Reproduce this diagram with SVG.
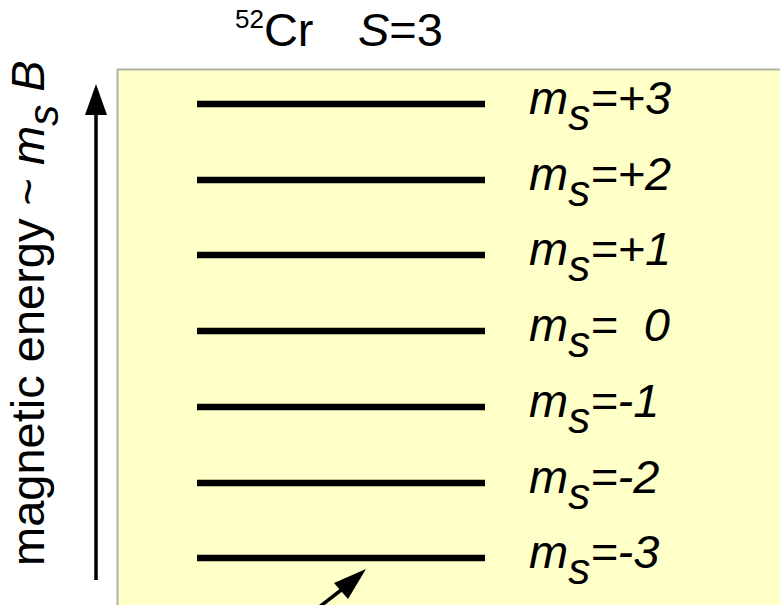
<svg xmlns="http://www.w3.org/2000/svg" width="780" height="605" viewBox="0 0 780 605">
<style>
text{font-family:"Liberation Sans",Arial,sans-serif;fill:#000}
.lvl{stroke:#000;stroke-width:6.5}
.lab{font-size:47px;font-style:italic}
.sub{font-size:44px}
</style>
<rect width="780" height="605" fill="#fff"/>
<g id="box"><rect x="117.5" y="69.5" width="670" height="545" fill="#ffffc8" stroke="#b4b4a4" stroke-width="2"/></g>
<g id="title"><text x="235" y="46" font-size="47"><tspan font-size="26" dy="-18">52</tspan><tspan dy="18">Cr</tspan><tspan x="358" font-style="italic">S</tspan>=3</text></g>
<g id="axis">
<line x1="96" y1="580" x2="96" y2="112" stroke="#000" stroke-width="3.5"/>
<path d="M85,115 L96,84 L107,115 z" fill="#000"/>
<text transform="translate(44,566) rotate(-90)" font-size="47">magnetic energy ~ <tspan font-style="italic">m</tspan><tspan font-style="italic" font-size="42" dy="14">s</tspan><tspan font-style="italic" dy="-14"> B</tspan></text>
</g>
<g id="levels">
<g id="l3"><line class="lvl" x1="197" y1="104" x2="485" y2="104"/><text class="lab" x="529" y="114">m<tspan class="sub" dy="16">s</tspan><tspan dy="-16">=+3</tspan></text></g>
<g id="l2"><line class="lvl" x1="197" y1="180" x2="485" y2="180"/><text class="lab" x="529" y="190">m<tspan class="sub" dy="16">s</tspan><tspan dy="-16">=+2</tspan></text></g>
<g id="l1"><line class="lvl" x1="197" y1="255" x2="485" y2="255"/><text class="lab" x="529" y="265">m<tspan class="sub" dy="16">s</tspan><tspan dy="-16">=+1</tspan></text></g>
<g id="l0"><line class="lvl" x1="197" y1="331" x2="485" y2="331"/><text class="lab" x="529" y="341" xml:space="preserve">m<tspan class="sub" dy="16">s</tspan><tspan dy="-16">=  0</tspan></text></g>
<g id="lm1"><line class="lvl" x1="197" y1="407" x2="485" y2="407"/><text class="lab" x="529" y="417">m<tspan class="sub" dy="16">s</tspan><tspan dy="-16">=-1</tspan></text></g>
<g id="lm2"><line class="lvl" x1="197" y1="483" x2="485" y2="483"/><text class="lab" x="529" y="493">m<tspan class="sub" dy="16">s</tspan><tspan dy="-16">=-2</tspan></text></g>
<g id="lm3"><line class="lvl" x1="197" y1="558" x2="485" y2="558"/><text class="lab" x="529" y="568">m<tspan class="sub" dy="16">s</tspan><tspan dy="-16">=-3</tspan></text></g>
</g>
<g id="connectors">
<line x1="318" y1="608" x2="345" y2="587" stroke="#000" stroke-width="3.5"/>
<path d="M366,569 L334,583 L348,599 z" fill="#000"/>
</g>
</svg>
